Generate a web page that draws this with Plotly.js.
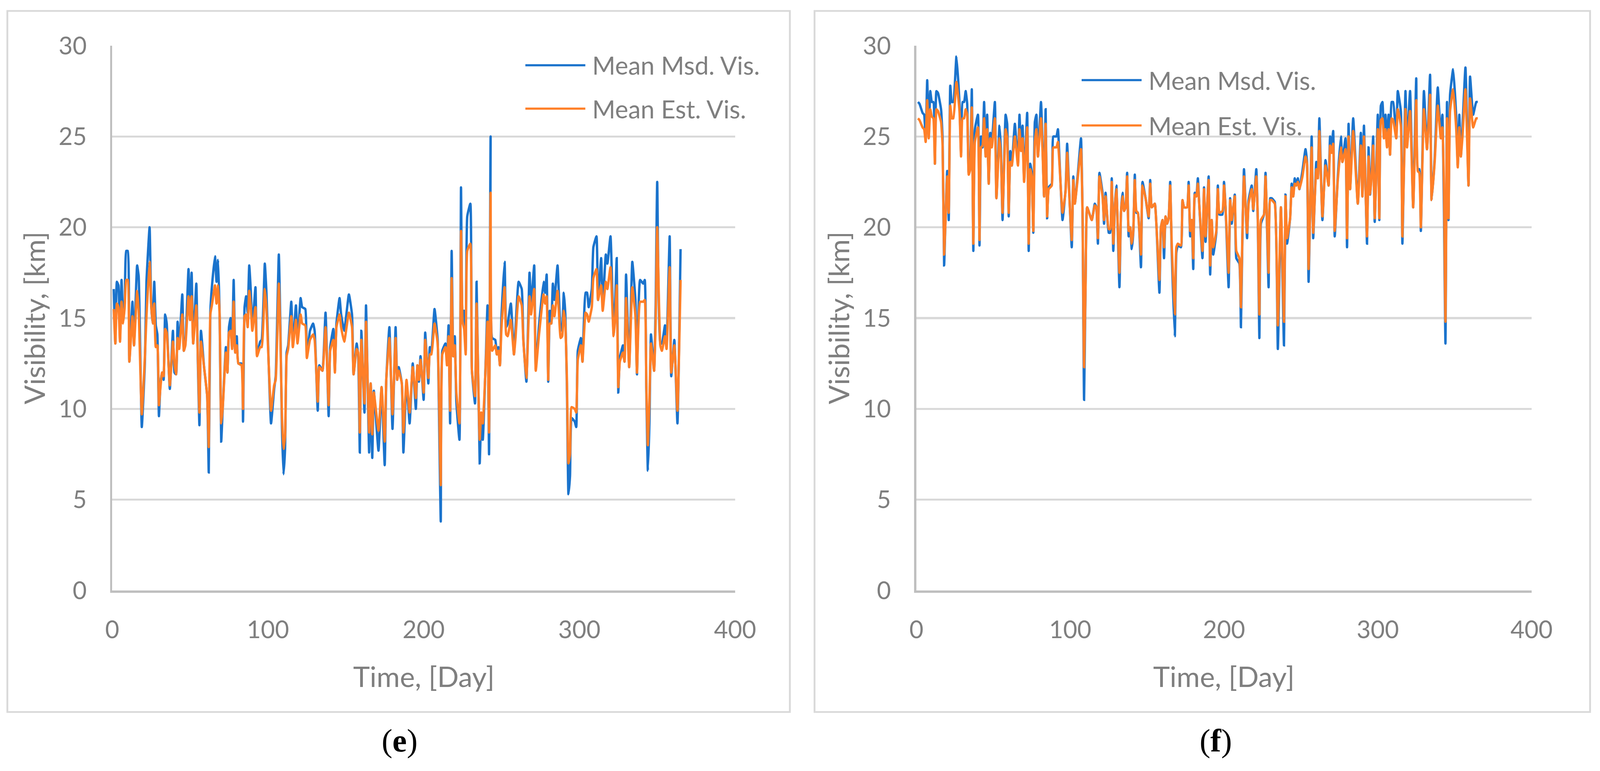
<!DOCTYPE html>
<html>
<head>
<meta charset="utf-8">
<script src="https://cdn.plot.ly/plotly-3.0.1.min.js"></script>
<style>
html,body{margin:0;padding:0;background:#fff;overflow:hidden;}
#chart{width:100vw;height:100vh;}
</style>
</head>
<body>
<div id="chart"></div>
<script>
// ---------- DATA ----------
const seriesNames = ["Mean Msd. Vis.", "Mean Est. Vis."];
const panelLabels = ["e", "f"];
const xTitle = "Time, [Day]";
const yTitle = "Visibility, [km]";
const xTicks = [0, 100, 200, 300, 400];
const yTicks = [0, 5, 10, 15, 20, 25, 30];

// Panel (e)
const daysE = [1,2,3,4,5,6,7,8,9,10,11,13,14,16,17,19,21,22,24,25,26,27,28,29,30,31,32,33,34,35,37,39,40,41,42,43,45,46,47,49,50,51,52,54,55,56,57,59,61,62,63,64,66,67,68,69,70,71,73,74,75,76,77,78,79,80,81,83,84,85,86,87,88,89,90,92,93,95,96,98,99,102,104,105,107,108,109,110,111,112,113,115,116,118,119,121,122,124,125,127,129,130,132,133,135,137,139,140,142,143,144,146,147,149,152,154,155,157,158,159,160,162,163,165,166,167,168,171,173,175,176,178,180,182,183,184,186,187,189,191,193,195,196,197,198,200,201,203,204,205,207,209,210,211,212,214,215,216,217,218,219,220,221,223,224,225,226,227,228,230,231,233,234,236,237,238,240,241,242,243,244,246,247,248,249,250,252,253,254,256,258,259,261,263,264,266,268,269,271,272,274,277,278,279,280,281,282,283,284,286,288,289,290,291,292,293,294,295,297,298,299,301,302,304,305,306,308,309,311,312,314,315,317,318,320,322,323,324,325,326,328,329,330,332,334,336,337,339,341,342,343,344,345,346,348,349,350,352,353,355,356,358,359,361,363,365];
const msdE = [16.6,13.6,17.0,16.8,13.8,17.1,14.8,15.8,18.7,18.7,12.6,15.9,13.5,17.9,17.3,9.0,12.6,17.0,20.0,15.8,14.7,17.0,14.6,14.1,9.6,11.4,12.0,11.6,15.2,14.7,11.1,14.3,12.0,11.9,14.8,13.4,16.3,13.2,13.6,17.7,14.9,17.5,13.6,16.9,12.6,9.1,14.3,12.3,10.7,6.5,15.3,16.7,18.4,17.0,18.2,15.1,8.2,10.1,13.4,12.0,14.5,15.0,13.4,17.1,13.1,14.0,12.5,12.5,9.3,15.6,16.2,15.3,17.9,16.5,14.5,16.7,13.0,13.7,13.8,18.0,16.5,9.2,11.1,11.8,18.5,14.5,9.0,6.4,7.8,13.1,13.5,15.9,13.5,15.7,13.7,16.1,15.6,15.5,12.9,14.3,14.7,14.3,9.9,12.4,12.1,15.3,9.6,13.4,14.4,12.1,14.7,16.1,15.2,14.3,16.3,15.2,11.9,13.6,12.9,7.6,14.3,9.8,15.7,7.6,11.4,7.3,11.0,7.7,11.2,6.9,11.6,14.5,8.9,14.5,11.6,12.3,11.4,7.6,11.5,9.2,12.5,10.0,12.4,11.5,12.9,10.5,14.2,11.4,13.4,13.2,15.5,13.8,9.0,3.8,13.2,13.6,12.6,14.6,9.2,18.7,12.9,14.0,10.4,8.3,22.2,15.1,15.4,13.2,20.6,21.3,12.1,10.3,17.0,7.0,9.6,8.3,13.0,15.7,7.5,25.0,13.9,13.8,13.0,13.4,12.4,15.1,18.1,14.5,14.7,15.8,13.0,14.4,17.0,16.6,13.9,11.5,17.5,15.7,17.9,12.2,14.5,17.0,16.4,17.4,11.5,15.4,14.7,16.9,16.0,17.9,14.3,14.5,16.4,15.2,11.3,5.3,6.3,9.5,9.3,9.0,13.2,13.9,12.6,16.4,16.4,15.6,16.6,18.9,19.5,16.0,18.3,15.6,18.5,18.0,19.5,14.1,15.9,18.3,10.9,12.8,13.5,12.6,17.4,12.3,18.1,16.0,11.9,17.1,16.9,17.1,11.1,6.6,9.2,14.1,12.1,15.7,22.5,13.6,13.6,14.6,13.5,19.5,11.8,13.8,9.2,18.8];
const estE = [15.5,13.6,15.8,15.6,13.7,15.9,14.7,15.6,17.1,17.1,12.6,15.1,13.5,16.5,15.4,9.7,12.9,15.1,18.1,15.8,14.7,15.8,13.4,13.5,10.2,11.2,12.0,11.8,14.4,14.2,11.3,13.7,12.5,11.9,13.9,13.3,15.2,13.2,13.5,16.2,14.9,16.2,13.6,15.7,12.9,9.8,13.7,12.3,10.7,7.9,15.2,15.7,16.8,15.8,16.8,15.1,9.2,10.1,13.1,12.0,14.2,14.3,13.3,15.9,13.1,13.5,12.5,12.4,10.0,15.1,15.2,14.5,16.5,15.6,14.3,15.6,12.9,13.4,13.4,16.6,15.6,9.9,11.3,11.6,16.9,14.0,9.6,7.8,8.5,12.9,13.3,15.1,13.4,14.9,13.6,15.2,14.7,14.6,12.8,13.8,14.1,13.8,10.4,12.3,12.1,14.5,10.2,13.2,13.8,12.0,14.5,15.2,14.5,13.7,15.3,14.5,11.9,13.3,13.1,8.7,13.8,10.3,14.8,8.7,11.4,8.6,10.9,8.8,11.2,8.2,11.6,13.9,9.7,13.9,11.6,12.1,11.4,8.7,11.6,9.8,12.3,10.6,12.4,11.6,12.7,10.9,13.8,11.7,13.0,13.0,14.7,13.6,10.1,5.8,13.0,13.4,12.4,14.0,9.9,17.2,12.9,13.5,10.9,9.2,19.8,14.8,14.4,13.0,18.7,19.1,12.1,10.7,15.8,8.3,9.8,9.2,12.7,14.8,8.7,21.9,13.2,13.5,13.0,13.2,12.4,14.5,16.7,14.1,14.0,14.9,13.0,13.9,16.2,15.7,13.8,11.7,16.2,15.2,16.6,12.1,14.0,16.3,15.8,16.2,11.6,14.7,14.7,15.7,15.1,16.5,13.9,14.0,15.4,14.6,11.7,7.0,7.5,10.1,10.0,9.8,12.7,13.5,12.6,15.3,15.2,14.8,15.6,17.2,17.7,16.0,16.8,15.4,17.0,16.6,17.8,14.0,15.0,16.8,11.2,12.6,13.1,12.6,16.1,12.3,16.7,15.1,12.0,15.9,15.9,16.0,11.3,8.0,10.4,13.6,12.1,14.8,20.0,13.5,13.2,14.0,13.3,17.8,12.0,13.5,9.9,17.1];

// Panel (f)
const daysF = [1,2,4,5,6,7,8,9,10,11,12,13,14,16,17,18,19,20,21,22,23,24,26,28,29,30,31,32,33,34,35,36,37,38,40,41,42,43,44,45,46,47,48,49,51,52,54,55,56,58,59,60,61,62,64,66,67,68,69,70,72,73,74,75,76,77,78,79,81,82,83,84,85,86,88,89,91,92,93,95,97,98,99,101,102,103,105,107,108,109,110,111,114,116,117,118,119,121,122,123,125,126,127,128,129,130,132,133,134,135,136,137,138,139,140,141,142,143,144,146,147,149,151,152,153,155,156,158,159,160,161,162,163,164,165,166,168,169,170,172,173,174,176,177,178,179,180,181,182,183,184,186,187,188,190,191,192,193,195,196,197,199,200,201,203,204,205,207,208,210,211,212,213,215,216,218,219,221,222,223,224,226,227,229,230,231,233,235,237,239,240,241,243,244,245,246,247,248,249,251,253,254,255,257,258,260,261,262,264,266,268,269,270,271,272,274,276,277,279,280,281,282,284,287,289,290,291,293,294,295,296,297,298,300,301,302,303,304,305,306,307,308,309,310,312,313,315,316,318,319,321,323,325,326,327,328,330,332,334,335,337,339,341,342,343,344,345,346,347,349,351,352,353,354,355,357,359,360,362,364,365];
const msdF = [26.9,26.8,26.3,26.2,24.9,28.1,25.0,27.5,26.9,26.9,23.5,27.5,27.4,26.5,24.9,17.9,20.8,23.1,20.4,27.8,26.9,26.9,29.4,26.8,24.1,26.9,26.9,27.5,26.8,23.0,23.5,27.6,18.7,25.4,26.2,19.0,25.0,24.4,26.9,23.9,26.2,22.4,25.2,24.7,26.9,21.6,25.6,24.1,20.4,26.2,25.7,20.6,24.2,23.4,25.7,23.5,26.2,24.3,25.6,22.6,26.3,18.7,23.5,23.0,19.7,25.8,26.2,23.9,26.9,24.5,21.7,26.5,20.5,22.2,22.4,25.0,25.0,25.4,23.8,20.4,22.1,24.6,22.7,18.9,22.8,21.3,23.0,24.9,20.8,10.5,17.0,21.1,20.4,21.3,21.1,19.1,23.0,21.9,20.2,21.9,19.7,19.7,22.7,18.7,21.1,22.3,16.7,20.8,21.9,20.9,21.1,23.0,19.5,20.0,18.8,19.7,22.9,20.8,20.8,17.8,22.5,21.6,20.5,22.6,21.1,21.3,20.2,16.4,20.0,20.4,18.3,20.6,20.2,20.5,22.5,18.7,14.0,18.6,19.0,18.9,21.5,21.1,21.1,22.5,19.5,20.4,17.7,21.9,21.7,22.7,21.1,18.3,22.2,19.2,22.8,17.4,20.4,18.5,19.7,22.3,20.7,20.7,22.5,21.1,16.7,21.6,20.2,21.8,18.3,18.0,14.5,19.7,23.2,19.4,21.5,22.3,20.9,23.2,20.2,13.9,20.2,20.7,23.0,16.7,21.6,21.6,21.4,13.3,21.1,13.5,21.8,19.1,20.5,22.4,21.7,22.7,22.3,22.7,22.1,23.1,24.3,23.6,17.0,25.0,19.4,23.6,22.7,26.0,20.4,23.7,22.3,25.0,24.5,25.3,19.5,22.8,25.0,23.6,24.9,18.9,25.7,22.1,26.0,21.3,25.2,21.7,25.6,19.1,24.4,21.8,23.2,25.0,20.3,26.2,20.4,26.7,26.9,25.0,26.2,24.5,26.2,24.0,26.9,26.9,24.9,27.5,26.4,19.1,27.5,24.5,27.5,21.1,28.2,23.2,23.2,19.8,27.5,24.3,28.4,21.5,23.8,27.7,25.0,26.2,21.1,13.6,26.9,20.4,27.3,28.7,26.1,23.4,26.2,23.9,25.4,28.8,22.3,28.3,26.2,26.9,26.9];
const estF = [26.0,25.9,25.5,25.4,24.7,27.0,24.9,26.5,26.1,26.0,23.5,26.5,26.4,25.8,24.5,18.5,20.6,22.8,20.8,26.7,26.0,26.0,28.0,26.4,23.9,26.0,26.0,26.5,26.2,22.9,23.2,26.6,19.1,24.7,25.5,19.3,24.4,24.5,26.0,23.9,25.4,22.4,24.9,24.4,26.0,21.6,24.9,23.8,20.8,25.4,24.9,20.8,23.6,23.4,25.0,23.4,25.4,24.2,24.9,22.5,25.5,19.1,23.2,22.8,19.8,24.7,25.4,23.9,26.0,24.2,21.7,25.7,20.6,22.1,22.3,24.4,24.4,24.7,23.5,20.8,22.0,24.1,22.4,19.3,22.6,21.3,22.8,24.3,20.8,12.3,17.0,21.1,20.4,21.2,21.1,19.4,22.8,21.7,20.4,21.7,19.9,19.9,22.5,19.1,21.1,22.1,17.5,20.8,21.7,20.9,21.1,22.8,19.8,20.0,19.1,19.8,22.6,20.9,20.8,18.5,22.3,21.6,20.6,22.4,21.1,21.3,20.2,17.1,20.0,20.4,18.9,20.6,20.2,20.5,22.3,19.1,15.2,18.9,19.1,19.0,21.5,21.1,21.1,22.3,19.8,20.4,18.3,21.8,21.7,22.4,21.1,18.7,22.1,19.5,22.6,17.9,20.4,18.9,19.8,22.1,20.8,20.9,22.3,21.1,17.5,21.5,20.4,21.7,18.7,18.3,15.6,19.8,22.8,19.7,21.3,22.1,21.0,22.8,20.4,15.2,20.4,20.7,22.8,17.5,21.5,21.5,21.3,14.6,21.1,14.8,21.7,19.4,20.5,22.2,21.7,22.4,22.3,22.5,22.1,22.8,23.9,23.5,17.7,24.4,19.7,23.2,22.7,25.3,20.6,23.4,22.3,24.5,24.1,24.6,19.8,22.6,24.4,23.6,24.3,19.4,25.0,22.1,25.3,21.3,24.5,21.7,25.0,19.5,23.9,21.8,22.8,24.5,20.5,25.4,20.5,25.9,26.0,24.9,25.4,24.4,25.4,24.0,26.0,25.9,24.9,26.5,25.6,19.5,26.5,24.4,26.4,21.1,27.0,23.1,23.0,20.0,26.5,24.3,27.3,21.5,23.6,26.7,24.9,25.5,22.4,14.8,26.0,20.5,26.4,27.6,25.4,23.3,25.5,23.9,24.9,27.6,22.3,27.1,25.5,26.0,26.0];

// ---------- STYLE / LAYOUT ----------
// Reference frame is 4349 x 1973; everything is laid out in that frame and scaled to the real viewport.
const W = 4349, H = 1973;
const VW = window.innerWidth || W;
const VH = window.innerHeight || H;
const S = Math.min(VW / W, VH / H);
const px = v => v / W;
const py = v => 1 - v / H;
const BLUE = '#1a73cc', ORANGE = '#ff7f27', GRAY = '#7f7f7f';
const FONT = 'Lato, "Open Sans", sans-serif';

const panels = [
  {days: daysE, msd: msdE, est: estE, xa: 'x', ya: 'y', x0: 305, x1: 1998, box: [20, 2147], legX: 1428, legY: [167, 278], lab: 1086},
  {days: daysF, msd: msdF, est: estF, xa: 'x2', ya: 'y2', x0: 2491, x1: 4163, box: [2214, 4322], legX: 2940, legY: [205, 321], lab: 3305}
];
const plotTop = 117, plotBot = 1511;

const data = [];
const shapes = [];
const annotations = [];
const layout = {
  width: VW, height: VH,
  margin: {l: 0, r: 0, t: 0, b: 0},
  paper_bgcolor: '#ffffff', plot_bgcolor: '#ffffff',
  showlegend: false,
  font: {family: FONT, color: GRAY, size: 66 * S}
};

panels.forEach((p, i) => {
  const sfx = i === 0 ? '' : '2';
  data.push({x: p.days, y: p.msd, name: seriesNames[0], type: 'scatter', mode: 'lines',
    xaxis: p.xa, yaxis: p.ya, line: {color: BLUE, width: 6.5 * S, shape: 'spline', smoothing: 0.4}});
  data.push({x: p.days, y: p.est, name: seriesNames[1], type: 'scatter', mode: 'lines',
    xaxis: p.xa, yaxis: p.ya, line: {color: ORANGE, width: 6.5 * S, shape: 'spline', smoothing: 0.4}});

  layout['xaxis' + sfx] = {
    domain: [px(p.x0), px(p.x1)], range: [0, 400], anchor: 'y' + sfx,
    tickvals: xTicks, ticktext: xTicks.map(String),
    ticks: 'outside', ticklen: 44 * S, tickcolor: 'rgba(0,0,0,0)', tickwidth: 1,
    showgrid: false, zeroline: false, showline: true, linecolor: '#bfbfbf', linewidth: 6 * S,
    tickfont: {family: FONT, size: 66 * S, color: GRAY},
    ticklabeloverflow: 'allow', fixedrange: true
  };
  layout['yaxis' + sfx] = {
    domain: [py(plotBot), py(plotTop)], range: [0, 30], anchor: 'x' + sfx,
    tickvals: yTicks, ticktext: yTicks.map(String),
    ticks: 'outside', ticklen: 50 * S, tickcolor: 'rgba(0,0,0,0)', tickwidth: 1,
    showgrid: true, gridcolor: '#d9d9d9', gridwidth: 6 * S,
    zeroline: false, showline: true, linecolor: '#bfbfbf', linewidth: 6 * S,
    tickfont: {family: FONT, size: 66 * S, color: GRAY},
    ticklabeloverflow: 'allow', fixedrange: true
  };

  // panel frame
  shapes.push({type: 'rect', xref: 'paper', yref: 'paper', x0: px(p.box[0]), x1: px(p.box[1]),
    y0: py(1822), y1: py(28), line: {color: '#d9d9d9', width: 5 * S}, fillcolor: 'rgba(0,0,0,0)'});

  // legend samples
  [BLUE, ORANGE].forEach((c, k) => {
    shapes.push({type: 'line', xref: 'paper', yref: 'paper', x0: px(p.legX), x1: px(p.legX + 163),
      y0: py(p.legY[k]), y1: py(p.legY[k]), line: {color: c, width: 6 * S}});
    annotations.push({xref: 'paper', yref: 'paper', x: px(p.legX + 180), y: py(p.legY[k]),
      xanchor: 'left', yanchor: 'middle', showarrow: false, text: seriesNames[k],
      font: {family: FONT, size: 68 * S, color: GRAY}});
  });

  // axis titles
  annotations.push({xref: 'paper', yref: 'paper', x: px((p.x0 + p.x1) / 2), y: py(1729),
    xanchor: 'center', yanchor: 'middle', showarrow: false, text: xTitle,
    font: {family: FONT, size: 77 * S, color: GRAY}});
  annotations.push({xref: 'paper', yref: 'paper', x: px(p.x0 - 214), y: py((plotTop + plotBot) / 2),
    xanchor: 'center', yanchor: 'middle', showarrow: false, text: yTitle, textangle: -90,
    font: {family: FONT, size: 77 * S, color: GRAY}});

  // panel label
  annotations.push({xref: 'paper', yref: 'paper', x: px(p.lab), y: py(1895),
    xanchor: 'center', yanchor: 'middle', showarrow: false,
    text: '(<b>' + panelLabels[i] + '</b>)',
    font: {family: '"Liberation Serif", "DejaVu Serif", serif', size: 88 * S, color: '#000000'}});
});

layout.shapes = shapes;
layout.annotations = annotations;

Plotly.newPlot('chart', data, layout, {staticPlot: true, displayModeBar: false});
</script>
</body>
</html>
